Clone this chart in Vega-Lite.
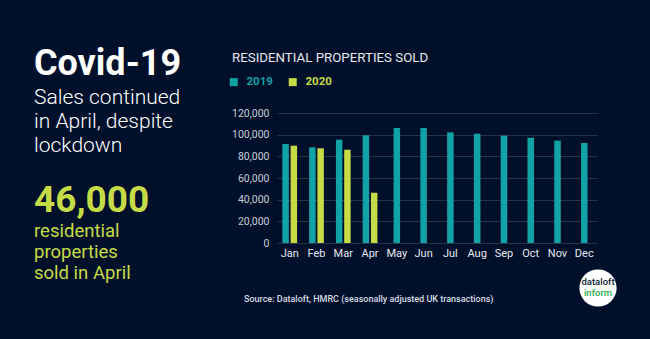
{
  "$schema": "https://vega.github.io/schema/vega-lite/v6.json",
  "width": 320,
  "height": 130,
  "autosize": {"type": "none"},
  "padding": {"left": 277, "top": 113, "right": 53, "bottom": 96},
  "background": "#00102b",
  "config": {
    "view": {"stroke": null},
    "font": "Roboto",
    "axis": {"labelFont": "Roboto"},
    "legend": {"labelFont": "Roboto"}
  },
  "data": {
    "values": [
      {"month": "Jan", "year": "2019", "sales": 91400},
      {"month": "Feb", "year": "2019", "sales": 88300},
      {"month": "Mar", "year": "2019", "sales": 95400},
      {"month": "Apr", "year": "2019", "sales": 99400},
      {"month": "May", "year": "2019", "sales": 106200},
      {"month": "Jun", "year": "2019", "sales": 106200},
      {"month": "Jul", "year": "2019", "sales": 102100},
      {"month": "Aug", "year": "2019", "sales": 100900},
      {"month": "Sep", "year": "2019", "sales": 99100},
      {"month": "Oct", "year": "2019", "sales": 97200},
      {"month": "Nov", "year": "2019", "sales": 94500},
      {"month": "Dec", "year": "2019", "sales": 92300},
      {"month": "Jan", "year": "2020", "sales": 89800},
      {"month": "Feb", "year": "2020", "sales": 87400},
      {"month": "Mar", "year": "2020", "sales": 86100},
      {"month": "Apr", "year": "2020", "sales": 46400}
    ]
  },
  "layer": [
    {
      "encoding": {
        "x": {
          "field": "month", "type": "nominal",
          "sort": ["Jan","Feb","Mar","Apr","May","Jun","Jul","Aug","Sep","Oct","Nov","Dec"],
          "scale": {"domain": ["Jan","Feb","Mar","Apr","May","Jun","Jul","Aug","Sep","Oct","Nov","Dec"], "paddingInner": 0.45, "paddingOuter": 0.2},
          "axis": {"title": null, "labelAngle": 0, "domain": false, "ticks": false, "grid": false, "labelColor": "#e6e8ee", "labelFontSize": 11, "labelPadding": 4}
        },
        "y": {
          "field": "sales", "type": "quantitative",
          "scale": {"domain": [0, 120000], "nice": false},
          "axis": {"title": null, "format": ",d", "values": [0,20000,40000,60000,80000,100000,120000], "tickCount": 7, "labelOverlap": false, "labelFlush": false, "domain": false, "ticks": false, "labelPadding": 8, "labelColor": "#c9cdd6", "labelFontSize": 10.5, "gridColor": "#2a3247", "gridWidth": 1}
        },
        "color": {
          "field": "year", "type": "nominal",
          "scale": {"domain": ["2019","2020"], "range": ["#11a3a5", "#c6dc47"]},
          "legend": {
            "title": null, "orient": "none", "legendX": -49, "legendY": -37, "direction": "horizontal",
            "symbolType": "square", "symbolSize": 64, "symbolStrokeWidth": 0, "labelFontSize": 11.5, "labelFontWeight": "bold",
            "columnPadding": 14, "labelOffset": 7,
            "encode": {"labels": {"update": {"fill": {"signal": "datum.value == '2019' ? '#11a3a5' : '#c6dc47'"}}}}
          }
        }
      },
      "layer": [
        {
          "transform": [{"filter": "indexof(['Jan','Feb','Mar','Apr'], datum.month) >= 0"}],
          "mark": {"type": "bar"},
          "encoding": {
            "xOffset": {"field": "year", "type": "nominal", "scale": {"paddingInner": 0.22}}
          }
        },
        {
          "transform": [{"filter": "indexof(['Jan','Feb','Mar','Apr'], datum.month) < 0"}],
          "mark": {"type": "bar", "size": 6.5}
        }
      ]
    },
    {
      "data": {"values": [{"t": "RESIDENTIAL PROPERTIES SOLD"}]},
      "mark": {"type": "text", "x": -45, "y": -51, "align": "left", "baseline": "alphabetic", "fontSize": 13.3, "color": "#e6e8ee", "font": "Roboto", "letterSpacing": 0.7},
      "encoding": {"text": {"field": "t"}}
    },
    {
      "data": {"values": [{"t": "Covid-19"}]},
      "mark": {"type": "text", "x": -243, "y": -38, "align": "left", "baseline": "alphabetic", "fontSize": 36, "fontWeight": "bold", "color": "#ffffff", "font": "Roboto"},
      "encoding": {"text": {"field": "t"}}
    },
    {
      "data": {"values": [{"t": ["Sales continued", "in April, despite", "lockdown"]}]},
      "mark": {"type": "text", "x": -243, "y": -9, "align": "left", "baseline": "alphabetic", "fontSize": 21, "fontWeight": 300, "lineHeight": 24, "color": "#ffffff", "font": "Roboto"},
      "encoding": {"text": {"field": "t"}}
    },
    {
      "data": {"values": [{"t": "46,000"}]},
      "mark": {"type": "text", "x": -243, "y": 98.5, "align": "left", "baseline": "alphabetic", "fontSize": 37, "fontWeight": "bold", "color": "#c6dc47", "font": "Roboto"},
      "encoding": {"text": {"field": "t"}}
    },
    {
      "data": {"values": [{"t": ["residential", "properties", "sold in April"]}]},
      "mark": {"type": "text", "x": -243, "y": 123.5, "align": "left", "baseline": "alphabetic", "fontSize": 18.5, "lineHeight": 21, "color": "#c6dc47", "font": "Roboto"},
      "encoding": {"text": {"field": "t"}}
    },
    {
      "data": {"values": [{"t": "Source: Dataloft, HMRC (seasonally adjusted UK transactions)"}]},
      "mark": {"type": "text", "x": -33, "y": 188.5, "align": "left", "baseline": "alphabetic", "fontSize": 9, "fontWeight": 500, "color": "#d8dbe2", "font": "Roboto"},
      "encoding": {"text": {"field": "t"}}
    },
    {
      "data": {"values": [{"t": "logo"}]},
      "mark": {"type": "point", "shape": "circle", "x": 321, "y": 175, "size": 1385, "filled": true, "color": "#ffffff", "opacity": 1},
      "encoding": {}
    },
    {
      "data": {"values": [{"t": "dataloft"}]},
      "mark": {"type": "text", "x": 321, "y": 172, "align": "center", "baseline": "alphabetic", "fontSize": 9.5, "fontWeight": 500, "color": "#0b1a33", "font": "Roboto", "letterSpacing": -0.2},
      "encoding": {"text": {"field": "t"}}
    },
    {
      "data": {"values": [{"t": "inform"}]},
      "mark": {"type": "text", "x": 321, "y": 183, "align": "center", "baseline": "alphabetic", "fontSize": 9.5, "fontWeight": 500, "color": "#1fae4b", "font": "Roboto", "letterSpacing": -0.2},
      "encoding": {"text": {"field": "t"}}
    }
  ]
}
